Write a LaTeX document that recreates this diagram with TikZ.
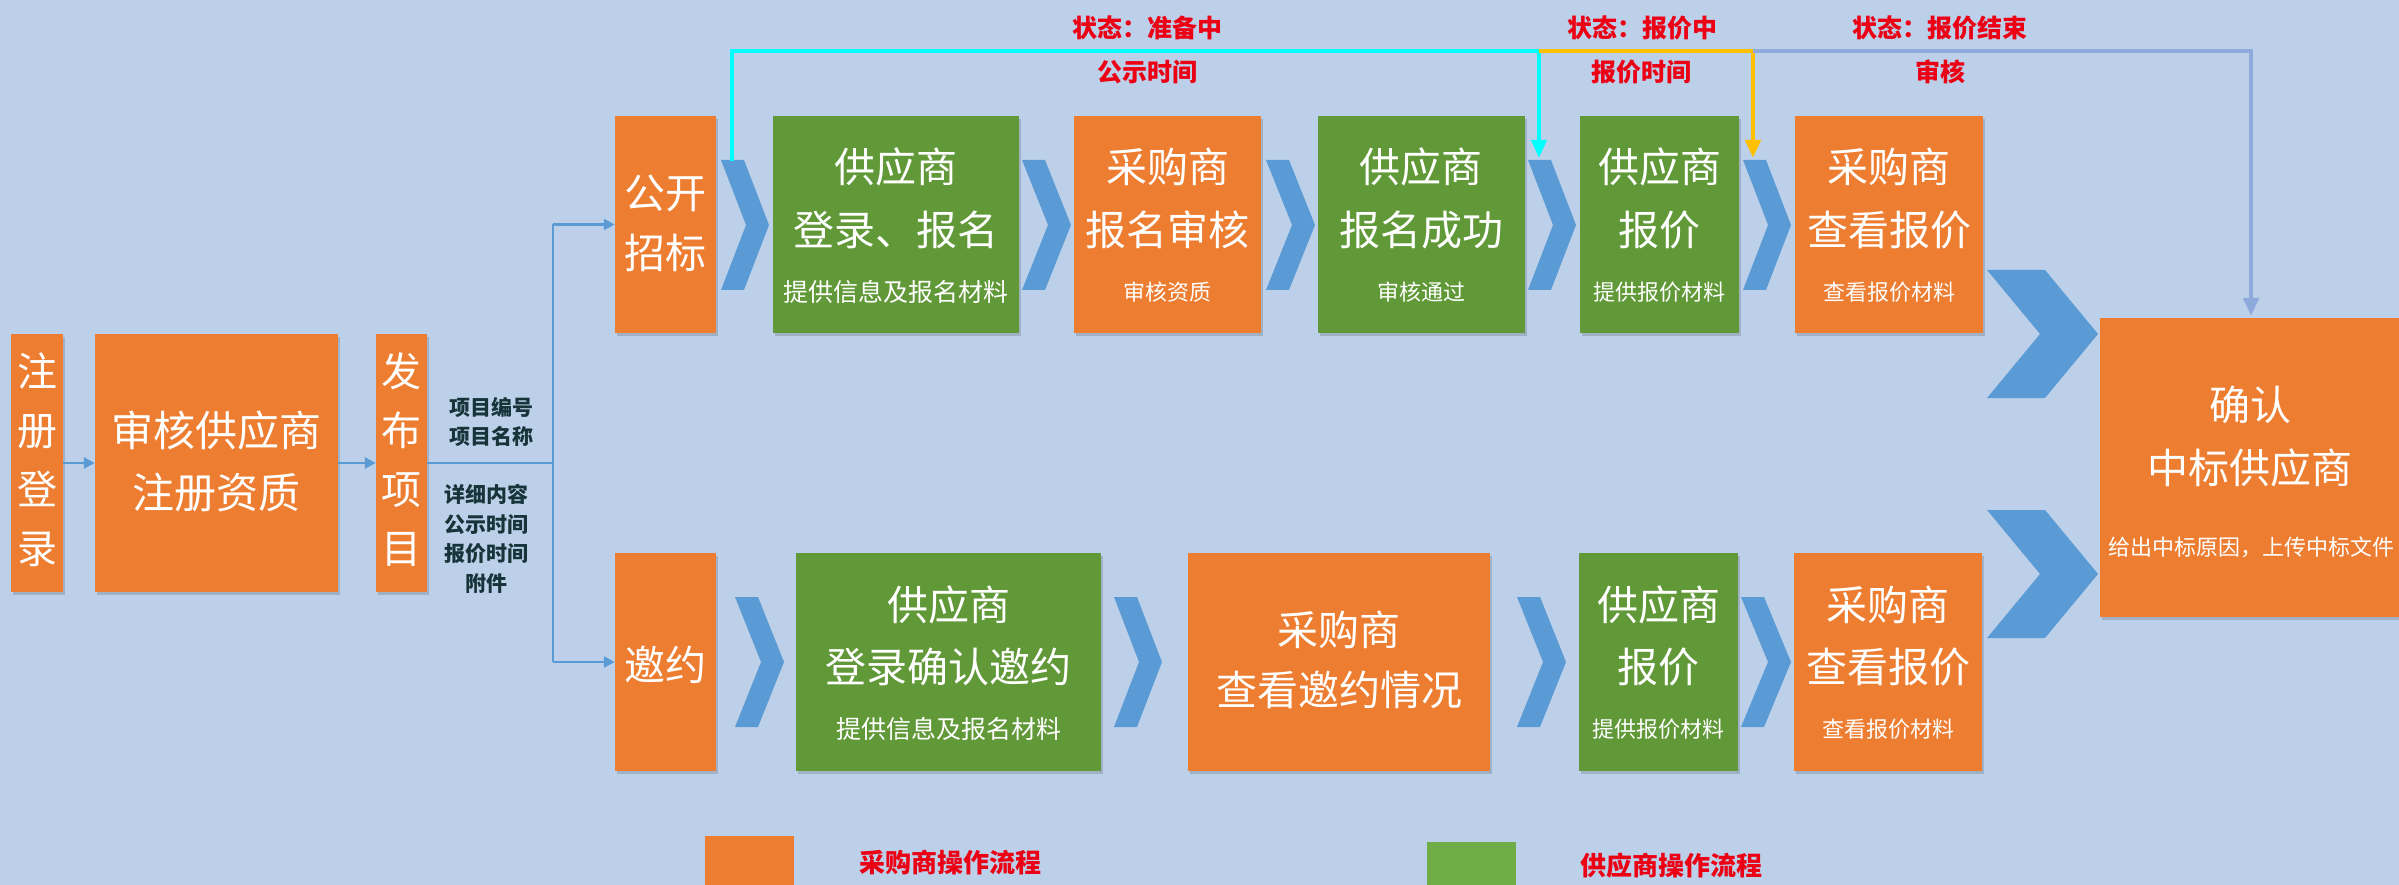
\documentclass[tikz,border=0pt]{standalone}
\usepackage{fontspec}
\newfontfamily\cjk{Noto Sans CJK SC}
\usetikzlibrary{arrows.meta,shadows}
\definecolor{bg}{RGB}{189,208,233}
\definecolor{orng}{RGB}{237,125,49}
\definecolor{grn}{RGB}{97,153,57}
\definecolor{lgrn}{RGB}{112,173,71}
\definecolor{chev}{RGB}{91,155,213}
\definecolor{lnblue}{RGB}{91,155,213}
\definecolor{cyanc}{RGB}{0,255,255}
\definecolor{yelc}{RGB}{255,192,0}
\definecolor{gryb}{RGB}{142,169,219}
\definecolor{redc}{RGB}{235,0,20}
\definecolor{darkc}{RGB}{22,52,58}
\newcommand\mychev[5]{%
  \fill[chev] (#1,#2) -- ({#1+#5},#2) -- ({#1+#4},{(#2+#3)/2}) -- ({#1+#5},#3) -- (#1,#3) -- ({#1+#4-#5},{(#2+#3)/2}) -- cycle;}
\begin{document}
\begin{tikzpicture}[x=1pt,y=-1pt,
  shd/.style={drop shadow={shadow xshift=2pt,shadow yshift=-3pt,opacity=0.15,fill=black}},
  obox/.style={rectangle,fill=orng,inner sep=0pt,shd},
  gbox/.style={rectangle,fill=grn,inner sep=0pt,shd},
  big/.style={text=white,font=\cjk\fontsize{41}{63}\selectfont,align=center,inner sep=0pt},
  vert/.style={text=white,font=\cjk\fontsize{40}{59}\selectfont,align=center,inner sep=0pt},
  subt/.style={text=white,font=\cjk\fontsize{22}{26}\selectfont,inner sep=0pt},
  subw/.style={text=white,font=\cjk\fontsize{25}{30}\selectfont,inner sep=0pt},
  lab/.style={text=redc,font=\cjk\bfseries\fontsize{25}{30}\selectfont,inner sep=0pt},
  info/.style={text=darkc,font=\cjk\bfseries\fontsize{21}{29.5}\selectfont,align=center,inner sep=0pt},
  thinln/.style={draw=lnblue,line width=2.5pt},
  thinarr/.style={thinln,-{Triangle[length=11pt,width=11pt]}},
]
\fill[bg] (0,0) rectangle (2399,885);
\useasboundingbox (0,0) rectangle (2399,885);

% ---- left part
\node[obox,minimum width=52,minimum height=258] (reg) at (37,463) {};
\node[vert] (regt) at (37,460) {注\\册\\登\\录};
\node[obox,minimum width=243,minimum height=258] (audit) at (216.5,463) {};
\node[big,font=\cjk\fontsize{42}{62}\selectfont] (auditt) at (216.5,461) {审核供应商\\注册资质};
\node[obox,minimum width=51,minimum height=258] (pub) at (401.5,463) {};
\node[vert] (pubt) at (401.5,460) {发\\布\\项\\目};
\node[info] (info1) at (491,422) {项目编号\\项目名称};
\node[info] (info2) at (486,539) {详细内容\\公示时间\\报价时间\\附件};

\coordinate (jmid) at (553,463);
\coordinate (jtop) at (553,224.5);
\coordinate (jbot) at (553,662);

% ---- top row
\node[obox,minimum width=101,minimum height=217] (open) at (665.5,224.5) {};
\node[big,font=\cjk\fontsize{41}{60}\selectfont] (opent) at (665.5,223) {公开\\招标};
\node[gbox,minimum width=246,minimum height=217] (s1) at (896,224.5) {};
\node[big] (s1t) at (896,198.5) {供应商\\登录、报名};
\node[subw] (s1s) at (896,292) {提供信息及报名材料};
\node[obox,minimum width=187,minimum height=217] (b1) at (1167.5,224.5) {};
\node[big] (b1t) at (1167.5,198.5) {采购商\\报名审核};
\node[subt] (b1s) at (1167.5,292) {审核资质};
\node[gbox,minimum width=207,minimum height=217] (s2) at (1421,224.5) {};
\node[big] (s2t) at (1421,198.5) {供应商\\报名成功};
\node[subt] (s2s) at (1421,292) {审核通过};
\node[gbox,minimum width=159,minimum height=217] (s3) at (1659.5,224.5) {};
\node[big] (s3t) at (1659.5,198.5) {供应商\\报价};
\node[subt] (s3s) at (1659.5,292) {提供报价材料};
\node[obox,minimum width=188,minimum height=217] (b2) at (1889,224.5) {};
\node[big] (b2t) at (1889,198.5) {采购商\\查看报价};
\node[subt] (b2s) at (1889,292) {查看报价材料};

% ---- bottom row
\node[obox,minimum width=101,minimum height=218] (inv) at (665.5,662) {};
\node[big] (invt) at (665.5,665) {邀约};
\node[gbox,minimum width=305,minimum height=218] (s4) at (948.5,662) {};
\node[big,font=\cjk\fontsize{41}{62}\selectfont] (s4t) at (948.5,636) {供应商\\登录确认邀约};
\node[subw] (s4s) at (948.5,729) {提供信息及报名材料};
\node[obox,minimum width=302,minimum height=218] (b3) at (1339,662) {};
\node[big,font=\cjk\fontsize{41}{60}\selectfont] (b3t) at (1339,660) {采购商\\查看邀约情况};
\node[gbox,minimum width=159,minimum height=218] (s5) at (1658.5,662) {};
\node[big,font=\cjk\fontsize{41}{62}\selectfont] (s5t) at (1658.5,636) {供应商\\报价};
\node[subt] (s5s) at (1658.5,729) {提供报价材料};
\node[obox,minimum width=188,minimum height=218] (b4) at (1888,662) {};
\node[big,font=\cjk\fontsize{41}{62}\selectfont] (b4t) at (1888,636) {采购商\\查看报价};
\node[subt] (b4s) at (1888,729) {查看报价材料};

% ---- final box
\node[obox,minimum width=300,minimum height=299] (win) at (2250,467.5) {};
\node[big] (wint) at (2250,436.5) {确认\\中标供应商};
\node[subt] (wins) at (2251,547) {给出中标原因，上传中标文件};

% ---- chevrons
\mychev{721}{160}{290}{48}{23}
\mychev{1022}{160}{290}{49}{23}
\mychev{1266}{160}{290}{49}{23}
\mychev{1528}{160}{290}{48}{23}
\mychev{1743}{160}{290}{48}{23}
\mychev{735}{597}{727}{49}{23}
\mychev{1114}{597}{727}{48}{23}
\mychev{1517}{597}{727}{49}{23}
\mychev{1741}{597}{727}{50}{23}
\mychev{1987}{270}{398}{111}{58}
\mychev{1987}{510}{638}{111}{58}

% ---- left connectors
\draw[thinarr] (reg.east) -- (audit.west);
\draw[thinarr] (audit.east) -- (pub.west);
\draw[thinln] (pub.east) -- (jmid);
\draw[thinln] (jtop) -- (jbot);
\draw[thinarr] (jtop) -- (open.west);
\draw[thinarr] (jbot) -- (inv.west);

% ---- status lines
\coordinate (c1top) at (732,161);
\coordinate (c4top) at (1539,158);
\coordinate (c5top) at (1753,158);
\coordinate (ka) at (732,51);
\coordinate (kb) at (1539,51);
\coordinate (kc) at (1753,51);
\coordinate (kd) at (2251,51);
\coordinate (winin) at (2251,316);
\draw[draw=cyanc,line width=4pt,-{Triangle[length=18pt,width=15pt]}] (c1top) -- (ka) -- (kb) -- (c4top);
\draw[draw=yelc,line width=4.5pt,-{Triangle[length=18pt,width=15pt]}] (kb) -- (kc) -- (c5top);
\draw[draw=gryb,line width=4.5pt,-{Triangle[length=18pt,width=15pt]}] (kc) -- (kd) -- (winin);

\node[lab] (l1) at (1147,28) {状态：准备中};
\node[lab] (l1b) at (1147,72) {公示时间};
\node[lab] (l2) at (1642,28) {状态：报价中};
\node[lab] (l2b) at (1641,72) {报价时间};
\node[lab] (l3) at (1940,28) {状态：报价结束};
\node[lab] (l3b) at (1940,72) {审核};

% ---- legend
\node[rectangle,fill=orng,inner sep=0pt,minimum width=89,minimum height=52] (lgo) at (749.5,862) {};
\node[lab,font=\cjk\bfseries\fontsize{26}{30}\selectfont] (lgot) at (950,863) {采购商操作流程};
\node[rectangle,fill=lgrn,inner sep=0pt,minimum width=89,minimum height=48] (lgg) at (1471.5,866) {};
\node[lab,font=\cjk\bfseries\fontsize{26}{30}\selectfont] (lggt) at (1671,866) {供应商操作流程};
\end{tikzpicture}
\end{document}
